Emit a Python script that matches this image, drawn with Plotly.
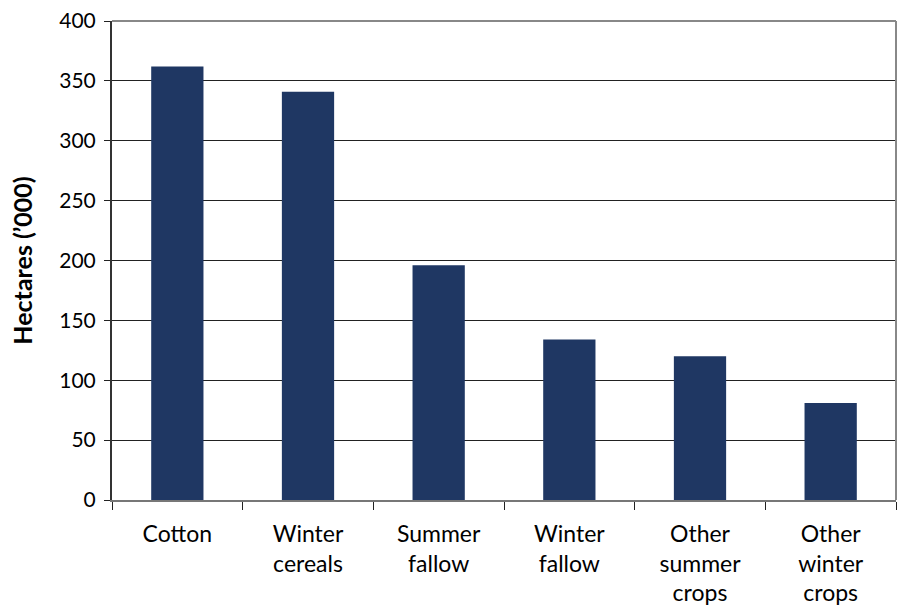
import plotly.graph_objects as go

# Land use area by crop type, thousands of hectares
categories = ["Cotton", "Winter cereals", "Summer fallow", "Winter fallow",
              "Other summer crops", "Other winter crops"]
tick_labels = ["Cotton", "Winter<br>cereals", "Summer<br>fallow", "Winter<br>fallow",
               "Other<br>summer<br>crops", "Other<br>winter<br>crops"]
hectares = [362, 341, 196, 134, 120, 81]
y_ticks = [0, 50, 100, 150, 200, 250, 300, 350, 400]

FONT = "Lato, 'Open Sans', sans-serif"
BAR_COLOR = "#1F3763"

fig = go.Figure(
    go.Bar(
        x=categories,
        y=hectares,
        marker=dict(color=BAR_COLOR, line=dict(width=0)),
        width=0.4,
    )
)

fig.update_layout(
    width=900,
    height=613,
    margin=dict(l=112, r=4, t=21, b=113),
    paper_bgcolor="white",
    plot_bgcolor="white",
    showlegend=False,
    font=dict(family=FONT, size=21, color="black"),
    xaxis=dict(
        tickmode="array",
        tickvals=categories,
        ticktext=tick_labels,
        tickson="boundaries",
        ticks="outside",
        ticklen=8,
        tickwidth=1,
        tickcolor="#222222",
        ticklabelstandoff=12,
        showline=True,
        linecolor="#777777",
        linewidth=2,
        mirror=False,
        showgrid=False,
        tickfont=dict(family=FONT, size=23, color="black"),
    ),
    yaxis=dict(
        range=[0, 400],
        tickmode="array",
        tickvals=y_ticks,
        ticks="outside",
        ticklen=6,
        tickwidth=1,
        tickcolor="#222222",
        ticklabelstandoff=4,
        showline=True,
        linecolor="#333333",
        linewidth=2,
        showgrid=True,
        gridcolor="#222222",
        gridwidth=1,
        zeroline=False,
        tickfont=dict(family=FONT, size=21, color="black"),
        title=dict(
            text="<b>Hectares (\u2019000)</b>",
            font=dict(family=FONT, size=25, color="black"),
            standoff=20,
        ),
    ),
    shapes=[
        # plot frame: top and right borders
        dict(type="line", xref="paper", yref="paper", x0=0, x1=1, y0=1, y1=1,
             line=dict(color="#888888", width=2)),
        dict(type="line", xref="paper", yref="paper", x0=1, x1=1, y0=0, y1=1,
             line=dict(color="#888888", width=2)),
    ],
    bargap=0.6,
)

fig.write_html("out.html")
